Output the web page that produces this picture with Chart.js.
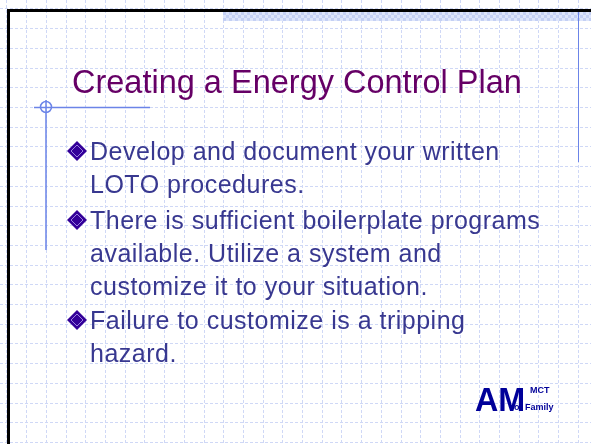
<!DOCTYPE html>
<html>
<head>
<meta charset="utf-8">
<script src="https://cdn.jsdelivr.net/npm/chart.js@4.4.0/dist/chart.umd.min.js"></script>
<style>
  html, body { margin: 0; padding: 0; background: #fff; }
  canvas { display: block; }
</style>
</head>
<body>
<canvas id="slide" width="591" height="444"></canvas>
<script>
// Slide content
const titleText = "Creating a Energy Control Plan";
const bulletLines = [
  ["Develop and document your written", "LOTO procedures."],
  ["There is sufficient boilerplate programs", "available. Utilize a system and", "customize it to your situation."],
  ["Failure to customize is a tripping", "hazard."]
];
const logoMain = "AM";
const logoSmall = ["MCT", "of Family"];

const CELL = 19.7;
const ORIGIN_X = 7;
const ORIGIN_Y = 9;

const slidePlugin = {
  id: "slideDecor",
  beforeDraw(chart) {
    const ctx = chart.ctx;
    ctx.save();
    ctx.fillStyle = "#ffffff";
    ctx.fillRect(0, 0, chart.width, chart.height);
    ctx.restore();
  },
  afterDraw(chart) {
    const ctx = chart.ctx;
    ctx.save();

    // checkered strip at the top
    for (let x = 223; x < 591; x += 3) {
      for (let y = 12; y < 19; y += 3) {
        ctx.fillStyle = ((x + y) / 3) % 2 < 1 ? "#c4d0f4" : "#dde5fb";
        ctx.fillRect(x, y, 3, 3);
      }
    }

    // slide frame: top and left
    ctx.fillStyle = "#000000";
    ctx.fillRect(7, 9, 584, 3);
    ctx.fillRect(7, 9, 3, 435);

    // blue ornaments
    ctx.strokeStyle = "#6b84e8";
    ctx.lineWidth = 1.5;
    ctx.beginPath();
    ctx.moveTo(34, 107.5); ctx.lineTo(150, 107.5);
    ctx.moveTo(46, 100); ctx.lineTo(46, 250);
    ctx.stroke();
    ctx.beginPath();
    ctx.arc(46, 107, 5.5, 0, Math.PI * 2);
    ctx.stroke();
    ctx.lineWidth = 1;
    ctx.beginPath();
    ctx.moveTo(578.5, 12); ctx.lineTo(578.5, 162);
    ctx.stroke();

    // title
    ctx.fillStyle = "#660066";
    ctx.font = "32.5px 'Liberation Sans', Arial, sans-serif";
    ctx.textBaseline = "alphabetic";
    ctx.fillText(titleText, 72, 93);

    // bullets
    const starts = [160, 229, 329];
    ctx.font = "25px 'Liberation Sans', Arial, sans-serif";
    ctx.letterSpacing = "0.5px";
    bulletLines.forEach((lines, i) => {
      const y0 = starts[i];
      drawDiamond(ctx, 77, y0 - 9);
      ctx.fillStyle = "#383890";
      lines.forEach((line, j) => {
        ctx.fillText(line, 90, y0 + j * 33);
      });
    });
    ctx.letterSpacing = "0px";

    // logo
    ctx.fillStyle = "#000099";
    ctx.font = "bold 34px 'Liberation Sans Narrow', 'Liberation Sans', sans-serif";
    ctx.save();
    ctx.translate(475, 411);
    ctx.scale(0.95, 0.95);
    ctx.fillText(logoMain, 0, 0);
    ctx.restore();
    ctx.font = "bold 9px 'Liberation Sans', sans-serif";
    ctx.fillText(logoSmall[0], 530, 393);
    ctx.fillText(logoSmall[1], 514, 410);

    ctx.restore();
  }
};

function drawDiamond(ctx, cx, cy) {
  const r = 10;
  ctx.beginPath();
  ctx.moveTo(cx, cy - r); ctx.lineTo(cx + r, cy); ctx.lineTo(cx, cy + r); ctx.lineTo(cx - r, cy);
  ctx.closePath();
  ctx.fillStyle = "#330099";
  ctx.fill();
  const r2 = 6;
  ctx.beginPath();
  ctx.moveTo(cx, cy - r2); ctx.lineTo(cx + r2, cy); ctx.lineTo(cx, cy + r2); ctx.lineTo(cx - r2, cy);
  ctx.closePath();
  ctx.strokeStyle = "#9a7fe0";
  ctx.lineWidth = 1;
  ctx.stroke();
}

const gridScale = (min, max, reverse) => ({
  type: "linear",
  min: min,
  max: max,
  reverse: reverse,
  afterBuildTicks(scale) {
    const t = [];
    for (let v = Math.ceil(min); v <= max; v++) t.push({ value: v });
    scale.ticks = t;
  },
  afterFit(scale) { if (scale.isHorizontal()) scale.height = 0; else scale.width = 0; },
  ticks: { display: false },
  grid: { color: "#cfd8f6", lineWidth: 1, drawTicks: false },
  border: { display: false, dash: [3, 2] }
});

new Chart(document.getElementById("slide"), {
  type: "scatter",
  data: { datasets: [{ data: [], pointRadius: 0 }] },
  options: {
    responsive: false,
    animation: false,
    events: [],
    layout: { padding: 0 },
    plugins: { legend: { display: false }, tooltip: { enabled: false } },
    scales: {
      x: gridScale(-ORIGIN_X / CELL, (591 - ORIGIN_X) / CELL, false),
      y: gridScale(-ORIGIN_Y / CELL, (444 - ORIGIN_Y) / CELL, true)
    }
  },
  plugins: [slidePlugin]
});
</script>
</body>
</html>
